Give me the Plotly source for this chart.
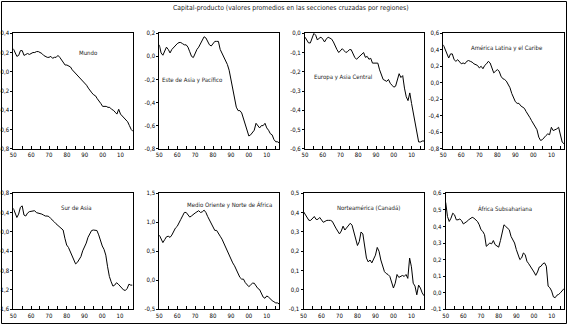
import plotly.graph_objects as go

years = list(range(1950, 2018))

mundo = [0.24, 0.20, 0.16, 0.17, 0.22, 0.22, 0.17, 0.18, 0.19, 0.18,
         0.19, 0.20, 0.20, 0.21, 0.21, 0.20, 0.19, 0.17, 0.16, 0.15,
         0.15, 0.16, 0.14, 0.15, 0.15, 0.17, 0.15, 0.12, 0.09, 0.07,
         0.07, 0.06, 0.05, 0.02, 0.00, -0.02, -0.03, -0.05, -0.08, -0.10,
         -0.11, -0.14, -0.17, -0.20, -0.22, -0.24, -0.25, -0.28, -0.30, -0.33,
         -0.36, -0.36, -0.36, -0.37, -0.37, -0.39, -0.40, -0.42, -0.44, -0.39,
         -0.44, -0.46, -0.48, -0.51, -0.52, -0.56, -0.60, -0.62]

este_asia = [0.10, 0.03, 0.01, 0.04, 0.08, 0.06, 0.03, 0.06, 0.08, 0.10,
             0.11, 0.12, 0.12, 0.11, 0.10, 0.10, 0.08, 0.04, 0.00, -0.01,
             0.03, 0.06, 0.08, 0.11, 0.14, 0.17, 0.16, 0.13, 0.10, 0.09,
             0.11, 0.13, 0.13, 0.13, 0.06, 0.03, 0.00, -0.04, -0.07, -0.12,
             -0.20, -0.29, -0.38, -0.44, -0.47, -0.47, -0.49, -0.54, -0.60, -0.65,
             -0.69, -0.68, -0.66, -0.64, -0.58, -0.60, -0.62, -0.60, -0.60, -0.58,
             -0.62, -0.64, -0.67, -0.68, -0.72, -0.74, -0.74, -0.75]

europa = [-0.02, -0.035, -0.05, -0.05, -0.025, 0.00, -0.01, -0.035, -0.025, -0.02,
          -0.03, -0.045, -0.03, -0.02, -0.025, -0.03, -0.045, -0.07, -0.085, -0.10,
          -0.09, -0.08, -0.09, -0.10, -0.095, -0.085, -0.085, -0.11, -0.125, -0.135,
          -0.125, -0.12, -0.11, -0.10, -0.125, -0.12, -0.135, -0.13, -0.155, -0.155,
          -0.155, -0.155, -0.19, -0.22, -0.24, -0.245, -0.25, -0.24, -0.26, -0.27,
          -0.28, -0.275, -0.245, -0.21, -0.23, -0.22, -0.285, -0.33, -0.35, -0.31,
          -0.365, -0.42, -0.46, -0.51, -0.565, -0.565, -0.56, -0.56]

america_latina = [0.46, 0.40, 0.34, 0.30, 0.35, 0.35, 0.28, 0.26, 0.28, 0.26,
                  0.23, 0.24, 0.23, 0.26, 0.27, 0.26, 0.25, 0.23, 0.22, 0.21,
                  0.18, 0.20, 0.17, 0.21, 0.23, 0.26, 0.24, 0.18, 0.12, 0.14,
                  0.16, 0.14, 0.08, 0.05, 0.04, 0.02, -0.02, -0.06, -0.13, -0.19,
                  -0.23, -0.25, -0.25, -0.28, -0.30, -0.31, -0.35, -0.38, -0.42, -0.46,
                  -0.50, -0.53, -0.57, -0.66, -0.70, -0.69, -0.66, -0.64, -0.62, -0.63,
                  -0.54, -0.58, -0.57, -0.56, -0.54, -0.64, -0.72, -0.74]

sur_asia = [0.49, 0.39, 0.30, 0.37, 0.51, 0.54, 0.35, 0.33, 0.39, 0.42,
            0.43, 0.43, 0.44, 0.40, 0.39, 0.39, 0.37, 0.35, 0.33, 0.33,
            0.32, 0.28, 0.25, 0.21, 0.17, 0.14, 0.10, 0.08, 0.04, -0.13,
            -0.27, -0.32, -0.41, -0.52, -0.61, -0.66, -0.63, -0.58, -0.51, -0.39,
            -0.32, -0.23, -0.11, -0.03, 0.03, 0.04, 0.04, 0.03, -0.06, -0.18,
            -0.29, -0.36, -0.48, -0.72, -0.92, -1.03, -1.12, -1.10, -1.05, -1.08,
            -1.12, -1.14, -1.20, -1.21, -1.17, -1.08, -1.10, -1.10]

medio_oriente = [0.78, 0.72, 0.65, 0.70, 0.75, 0.76, 0.74, 0.78, 0.84, 0.90,
                 0.93, 0.98, 1.05, 1.11, 1.17, 1.17, 1.13, 1.09, 1.11, 1.14,
                 1.16, 1.18, 1.20, 1.17, 1.18, 1.21, 1.17, 1.10, 1.04, 0.97,
                 0.90, 0.86, 0.86, 0.80, 0.76, 0.71, 0.64, 0.57, 0.49, 0.41,
                 0.35, 0.30, 0.25, 0.18, 0.12, 0.05, 0.02, 0.02, -0.04, -0.08,
                 -0.11, -0.08, -0.05, -0.05, -0.10, -0.14, -0.16, -0.22, -0.29, -0.31,
                 -0.27, -0.29, -0.33, -0.35, -0.37, -0.39, -0.39, -0.41]

norteamerica = [0.405, 0.39, 0.375, 0.36, 0.36, 0.37, 0.38, 0.365, 0.365, 0.375,
                0.365, 0.35, 0.355, 0.36, 0.36, 0.36, 0.355, 0.335, 0.32, 0.305,
                0.29, 0.305, 0.33, 0.31, 0.32, 0.335, 0.345, 0.335, 0.30, 0.26,
                0.23, 0.25, 0.30, 0.29, 0.22, 0.165, 0.145, 0.155, 0.14, 0.16,
                0.18, 0.22, 0.20, 0.155, 0.12, 0.095, 0.085, 0.08, 0.07, 0.035,
                0.01, 0.035, 0.08, 0.065, 0.07, 0.075, 0.07, 0.08, 0.06, 0.165,
                0.12, 0.035, 0.02, -0.025, 0.025, 0.01, -0.015, -0.03]

africa_sub = [0.545, 0.46, 0.43, 0.45, 0.48, 0.47, 0.44, 0.44, 0.445, 0.435,
              0.415, 0.42, 0.43, 0.44, 0.45, 0.455, 0.45, 0.44, 0.43, 0.41,
              0.38, 0.37, 0.35, 0.28, 0.29, 0.30, 0.295, 0.315, 0.29, 0.28,
              0.275, 0.315, 0.36, 0.41, 0.40, 0.39, 0.38, 0.34, 0.32, 0.30,
              0.26, 0.23, 0.20, 0.21, 0.24, 0.23, 0.19, 0.175, 0.16, 0.145,
              0.125, 0.105, 0.125, 0.155, 0.16, 0.175, 0.18, 0.16, 0.04, 0.03,
              0.01, -0.025, -0.03, -0.015, -0.01, 0.0, 0.015, 0.025]

titles = ["Mundo", "Este de Asia y Pacífico", "Europa y Asia Central",
          "América Latina y el Caribe", "Sur de Asia",
          "Medio Oriente y Norte de África", "Norteamérica (Canadá)",
          "África Subsahariana"]
series = [mundo, este_asia, europa, america_latina, sur_asia,
          medio_oriente, norteamerica, africa_sub]

# y-axis ticks (min, max, step)
y_ticks = [(-0.8, 0.4, 0.2), (-0.8, 0.2, 0.2), (-0.6, 0.0, 0.1), (-0.8, 0.6, 0.2),
           (-1.6, 0.8, 0.4), (-0.5, 1.5, 0.5), (-0.1, 0.5, 0.1), (-0.1, 0.6, 0.1)]

x_tickvals = list(range(1950, 2016, 5))
x_ticktext = [("%02d" % (y % 100)) if y % 10 == 0 else "" for y in x_tickvals]

W, H = 568, 325
FONT = "DejaVu Sans Condensed, Liberation Sans Narrow, sans-serif"

# plot areas in pixels: (left, right, top, bottom)
boxes = [(13.3, 133, 33.3, 148.7), (159.3, 279.3, 33.3, 148.7),
         (305, 424, 33.3, 148.7), (443.3, 564, 33.3, 148.7),
         (13.3, 132.5, 193.3, 309.3), (159.3, 279.3, 193.3, 309.3),
         (303.5, 424, 193.3, 309.3), (445.7, 564, 193.3, 309.3)]
label_pos = [(88, 52), (192, 80), (343, 77), (507, 48),
             (76, 207), (229, 205), (368, 207), (505, 208)]

fig = go.Figure()
layout = dict(width=W, height=H, margin=dict(l=0, r=0, t=0, b=0, pad=0, autoexpand=False),
              paper_bgcolor="white", plot_bgcolor="white", showlegend=False,
              font=dict(family=FONT, size=6, color="black"))
annotations = []

for i in range(8):
    n = i + 1
    xs = "x" if n == 1 else f"x{n}"
    ys = "y" if n == 1 else f"y{n}"
    fig.add_trace(go.Scatter(x=years, y=series[i], mode="lines",
                             line=dict(color="black", width=1),
                             xaxis=xs, yaxis=ys, hoverinfo="skip"))
    l, r, t, b = boxes[i]
    ymin, ymax, step = y_ticks[i]
    nt = int(round((ymax - ymin) / step))
    tv = [round(ymin + k * step, 2) for k in range(nt + 1)]
    tt = [("%.1f" % v).replace(".", ",") for v in tv]
    layout["xaxis" if n == 1 else f"xaxis{n}"] = dict(
        domain=[l / W, r / W], anchor=ys, range=[1950, 2017],
        tickvals=x_tickvals, ticktext=x_ticktext, ticks="inside", ticklen=3,
        tickcolor="black", showline=True, mirror=True, linecolor="black",
        linewidth=1, showgrid=False, zeroline=False, automargin=False,
        tickfont=dict(family=FONT, size=6, color="black"), fixedrange=True)
    layout["yaxis" if n == 1 else f"yaxis{n}"] = dict(
        domain=[1 - b / H, 1 - t / H], anchor=xs, range=[ymin, ymax],
        tickvals=tv, ticktext=tt, ticks="outside", ticklen=2,
        tickcolor="black", showline=True, mirror=True, linecolor="black",
        linewidth=1, showgrid=False, zeroline=False, automargin=False,
        tickfont=dict(family=FONT, size=6, color="black"), fixedrange=True)
    lx, ly = label_pos[i]
    annotations.append(dict(text=titles[i], x=lx / W, y=1 - ly / H,
                            xref="paper", yref="paper", showarrow=False,
                            xanchor="center", yanchor="middle",
                            font=dict(family=FONT, size=6, color="#222")))

annotations.append(dict(
    text="Capital-producto (valores promedios en las secciones cruzadas por regiones)",
    x=291 / W, y=1 - 8 / H, xref="paper", yref="paper", showarrow=False,
    xanchor="center", yanchor="middle",
    font=dict(family=FONT, size=6.8, color="#222")))

layout["annotations"] = annotations
layout["shapes"] = [dict(type="rect", xref="paper", yref="paper",
                         x0=1.5 / W, x1=566.5 / W, y0=1 - 323.5 / H, y1=1 - 1.5 / H,
                         line=dict(color="black", width=1))]
fig.update_layout(**layout)
fig.write_html("out.html", config={"displayModeBar": False},
               post_script="document.body.style.margin='0';document.body.style.padding='0';")
